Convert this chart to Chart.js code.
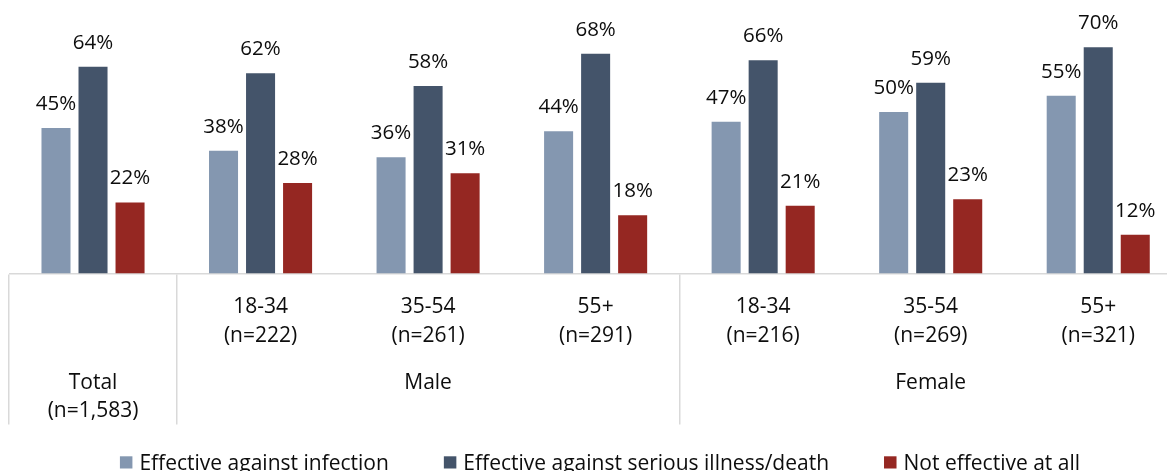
<!DOCTYPE html>
<html>
<head>
<meta charset="utf-8">
<script src="https://cdn.jsdelivr.net/npm/chart.js@4.4.1/dist/chart.umd.min.js"></script>
<style>
  html, body { margin: 0; padding: 0; background: #ffffff; overflow: hidden; }
  #wrap { width: 1167px; height: 471px; overflow: hidden; }
  canvas { display: block; }
</style>
</head>
<body>
<div id="wrap"><canvas id="chart" width="1200" height="471"></canvas></div>
<script>
// Survey breakdown: perceived vaccine effectiveness by gender and age band
const categories   = ['Total', '18-34', '35-54', '55+', '18-34', '35-54', '55+'];
const sampleSizes  = ['(n=1,583)', '(n=222)', '(n=261)', '(n=291)', '(n=216)', '(n=269)', '(n=321)'];
const groupLabels  = ['', 'Male', 'Male', 'Male', 'Female', 'Female', 'Female'];

const seriesNames  = ['Effective against infection', 'Effective against serious illness/death', 'Not effective at all'];
const infection    = [45, 38, 36, 44, 47, 50, 55];
const seriousIll   = [64, 62, 58, 68, 66, 59, 70];
const notEffective = [22, 28, 31, 18, 21, 23, 12];

const colors = ['#8497b0', '#44546a', '#952722'];
const FONT = '"Open Sans", "Noto Sans", sans-serif';
const TEXT = '#0d0d0d';
const LINE = '#d9d9d9';

// A boundary gets a separator where the group changes (and at both ends)
function isSeparator(i) {
  return i === 0 || i === categories.length || groupLabels[i] !== groupLabels[i - 1];
}

// Percent labels above each bar
const valueLabels = {
  id: 'valueLabels',
  afterDatasetsDraw(chart) {
    const ctx = chart.ctx;
    ctx.save();
    ctx.font = '20.5px ' + FONT;
    ctx.fillStyle = TEXT;
    ctx.textAlign = 'center';
    ctx.textBaseline = 'alphabetic';
    chart.data.datasets.forEach((ds, di) => {
      chart.getDatasetMeta(di).data.forEach((bar, i) => {
        ctx.fillText(ds.data[i] + '%', bar.x, bar.y - 18);
      });
    });
    ctx.restore();
  }
};

// Two-level category labels under the axis
const categoryLabels = {
  id: 'categoryLabels',
  afterDraw(chart) {
    const ctx = chart.ctx;
    const xs = chart.scales.x;
    const top = xs.top;
    ctx.save();
    ctx.font = '21px ' + FONT;
    ctx.fillStyle = TEXT;
    ctx.textAlign = 'center';
    ctx.textBaseline = 'alphabetic';
    categories.forEach((c, i) => {
      const x = xs.getPixelForValue(i);
      if (groupLabels[i]) {
        ctx.fillText(c, x, top + 39.5);
        ctx.fillText(sampleSizes[i], x, top + 68);
      } else {
        ctx.fillText(c, x, top + 115.8);
        ctx.fillText(sampleSizes[i], x, top + 143.5);
      }
    });
    // group names centred over their span
    let start = 0;
    for (let i = 1; i <= categories.length; i++) {
      if (i === categories.length || groupLabels[i] !== groupLabels[start]) {
        if (groupLabels[start]) {
          const x = (xs.getPixelForValue(start) + xs.getPixelForValue(i - 1)) / 2;
          ctx.fillText(groupLabels[start], x, top + 115.8);
        }
        start = i;
      }
    }
    ctx.restore();
  }
};

// Bottom legend with square swatches
const bottomLegend = {
  id: 'bottomLegend',
  afterDraw(chart) {
    const ctx = chart.ctx;
    ctx.save();
    ctx.font = '21px ' + FONT;
    ctx.textBaseline = 'alphabetic';
    ctx.textAlign = 'left';
    const box = 12.5, gapText = 7, gapItem = 55;
    const widths = chart.data.datasets.map(ds => box + gapText + ctx.measureText(ds.label).width);
    const total = widths.reduce((a, b) => a + b, 0) + gapItem * (widths.length - 1);
    let x = chart.width / 2 - total / 2;
    const baseline = 469.5;
    chart.data.datasets.forEach((ds, i) => {
      ctx.fillStyle = ds.backgroundColor;
      ctx.fillRect(x, 456.3, box, 12.2);
      ctx.fillStyle = TEXT;
      ctx.fillText(ds.label, x + box + gapText, baseline);
      x += widths[i] + gapItem;
    });
    ctx.restore();
  }
};

const seriesData = [infection, seriousIll, notEffective];

new Chart(document.getElementById('chart'), {
  type: 'bar',
  data: {
    labels: categories,
    datasets: seriesNames.map((name, i) => ({
      label: name,
      data: seriesData[i],
      backgroundColor: colors[i],
      borderWidth: 0,
      categoryPercentage: 0.663,
      barPercentage: 0.784
    }))
  },
  options: {
    responsive: false,
    devicePixelRatio: 1,
    animation: false,
    layout: { padding: { top: 15, left: 9.25, right: 18, bottom: 46.5 } },
    plugins: {
      legend: { display: false },
      tooltip: { enabled: false }
    },
    scales: {
      x: {
        offset: true,
        ticks: { display: false },
        border: { display: true, color: LINE, width: 1.5 },
        grid: {
          offset: true,
          drawOnChartArea: false,
          drawTicks: true,
          tickLength: 151,
          lineWidth: 1.5,
          color: ctx => isSeparator(ctx.index) ? LINE : 'rgba(0,0,0,0)'
        }
      },
      y: {
        display: false,
        min: 0,
        max: 80
      }
    }
  },
  plugins: [valueLabels, categoryLabels, bottomLegend]
});
</script>
</body>
</html>
